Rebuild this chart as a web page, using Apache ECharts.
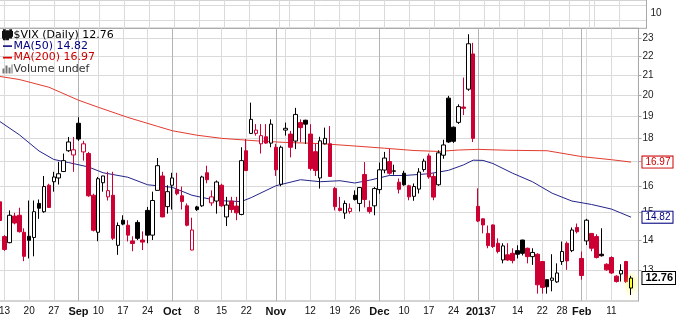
<!DOCTYPE html>
<html><head><meta charset="utf-8">
<script src="https://cdn.jsdelivr.net/npm/echarts@6/dist/echarts.min.js"></script>
<style>html,body{margin:0;padding:0;background:#fff;overflow:hidden;width:679px;height:317px;position:relative}#c{position:absolute;left:-4px;top:0;width:683px;height:317px}</style>
</head><body><div id="c"></div>
<script>
const dates = ['08-10','08-13','08-14','08-15','08-16','08-17','08-20','08-21','08-22','08-23','08-24','08-27','08-28','08-29','08-30','08-31',
'09-04','09-05','09-06','09-07','09-10','09-11','09-12','09-13','09-14','09-17','09-18','09-19','09-20','09-21','09-24','09-25','09-26','09-27','09-28',
'10-01','10-02','10-03','10-04','10-05','10-08','10-09','10-10','10-11','10-12','10-15','10-16','10-17','10-18','10-19','10-22','10-23','10-24','10-25','10-26','10-31',
'11-01','11-02','11-05','11-06','11-07','11-08','11-09','11-12','11-13','11-14','11-15','11-16','11-19','11-20','11-21','11-23','11-26','11-27','11-28','11-29','11-30',
'12-03','12-04','12-05','12-06','12-07','12-10','12-11','12-12','12-13','12-14','12-17','12-18','12-19','12-20','12-21','12-24','12-26','12-27','12-28','12-31',
'01-02','01-03','01-04','01-07','01-08','01-09','01-10','01-11','01-14','01-15','01-16','01-17','01-18','01-22','01-23','01-24','01-25','01-28','01-29','01-30','01-31',
'02-01','02-04','02-05','02-06','02-07','02-08','02-11','02-12','02-13','02-14','02-15','02-19'];

const opens = [15.39,14.13,13.92,14.86,14.89,14.28,14.14,14.10,15.33,15.02,16.03,16.17,16.32,16.58,17.45,17.27,18.67,17.40,17.33,15.64,
14.28,16.13,15.58,15.64,13.83,14.71,14.53,13.98,14.63,14.01,15.07,14.18,15.83,16.40,15.21,16.03,15.86,15.62,15.24,13.67,
15.20,15.24,16.53,15.35,15.42,16.03,14.83,15.42,15.23,14.92,17.45,18.21,18.21,17.75,18.06,17.78,17.60,16.07,18.36,18.18,
17.87,18.70,18.81,18.18,17.41,16.32,17.75,17.75,15.90,15.15,14.97,15.03,15.64,15.33,16.46,15.18,15.24,15.86,16.64,16.99,
16.59,16.15,16.51,16.01,15.60,15.88,16.66,17.23,16.38,16.05,17.26,19.86,18.49,18.71,19.43,20.30,22.14,15.22,14.76,14.24,
14.54,13.90,13.34,13.51,13.56,13.65,14.01,13.73,13.45,13.53,13.29,12.71,12.69,12.64,13.29,13.90,13.65,14.45,13.39,13.98,
14.24,14.13,13.53,13.20,13.42,12.82,12.89,13.29,12.45];
const highs = [15.47,14.18,15.07,14.98,15.17,14.42,15.44,15.44,15.48,16.40,16.09,16.57,16.98,17.33,18.05,18.05,18.95,17.88,17.40,15.70,
16.36,16.41,16.57,16.57,14.63,14.89,14.71,14.14,14.71,14.31,15.20,15.78,17.14,16.57,16.03,16.53,16.53,15.98,15.33,14.80,
15.24,16.41,16.82,15.83,16.22,16.09,15.58,15.58,15.58,17.60,17.96,19.64,18.63,18.63,18.63,18.85,17.75,17.67,18.70,18.32,
19.39,18.85,18.83,18.63,17.75,18.06,18.47,18.54,15.96,15.58,15.44,15.33,15.83,15.96,16.97,15.44,15.96,16.95,17.40,17.53,
16.86,16.30,16.61,16.05,16.10,16.72,17.11,17.33,16.51,17.47,17.93,19.97,18.52,19.56,20.89,23.24,22.75,15.91,14.78,14.52,
14.56,14.07,13.90,13.90,13.73,13.83,14.02,13.75,13.73,13.56,13.30,12.72,13.53,13.23,13.96,13.96,14.45,14.59,13.62,14.76,
14.25,14.21,14.42,13.23,13.46,12.85,13.20,13.31,12.83];
const lows = [14.63,13.64,13.90,14.56,14.27,13.30,13.39,13.46,14.76,14.98,15.16,15.78,16.06,16.57,17.40,16.57,17.88,17.03,15.58,14.31,
13.97,15.78,15.44,14.01,13.51,14.53,13.96,13.63,14.01,13.67,13.90,14.01,15.83,14.82,14.95,15.10,15.64,15.10,14.49,13.66,
15.05,15.20,16.11,15.24,14.95,15.20,14.50,14.98,14.71,14.89,16.60,18.18,18.11,17.33,17.75,17.60,16.40,15.99,18.11,17.17,
17.52,17.82,17.75,16.62,16.40,15.90,17.72,16.36,15.07,15.03,14.76,14.95,15.44,15.03,15.18,14.95,14.89,15.70,16.51,16.45,
16.45,15.71,16.01,15.45,15.43,15.71,16.57,16.29,15.45,16.01,17.11,17.79,17.79,18.64,19.05,20.22,17.83,14.64,14.24,13.73,
13.74,13.56,13.23,13.31,13.23,13.39,13.49,13.23,13.18,12.28,12.28,12.28,12.35,12.61,13.18,13.02,13.60,14.24,12.71,13.84,
13.63,13.39,13.45,12.99,12.89,12.62,12.65,12.61,12.24];
const closes = [14.70,13.69,14.89,14.61,14.30,13.46,14.00,15.02,15.15,15.98,15.18,16.36,16.49,17.03,17.83,17.49,17.96,17.75,15.62,14.35,
16.29,16.40,15.82,14.07,14.52,14.57,14.18,13.89,14.07,13.94,14.18,15.44,16.82,14.83,15.78,16.32,15.70,15.40,14.53,14.36,
15.10,16.36,16.25,15.58,16.16,15.24,15.27,15.10,14.98,17.03,16.62,18.85,18.36,18.11,17.78,18.63,16.65,17.60,18.44,17.60,
19.08,18.47,18.63,16.70,16.62,17.88,17.99,16.38,15.21,15.07,15.33,15.15,15.48,15.94,15.48,15.03,15.90,16.65,17.14,16.51,
16.61,15.87,16.05,15.58,15.98,16.56,17.01,16.36,15.57,17.36,17.70,17.83,17.86,19.45,19.37,22.70,17.99,14.68,14.54,13.82,
13.79,13.62,13.81,13.34,13.32,13.53,13.56,13.45,13.59,12.55,12.47,12.49,12.76,12.92,13.62,13.31,14.36,14.30,12.84,14.71,
13.73,13.42,13.48,13.02,12.92,12.65,13.00,12.65,12.76];

const ma50Dates = ['08-10','08-16','08-22','08-27','08-30','09-06','09-11','09-18','09-24','10-01','10-05','10-11','10-16','10-19','10-23','11-01','11-08','11-14','11-20','11-26','11-29','12-05','12-10','12-17','12-21','12-27','12-31','01-03','01-07','01-11','01-17','01-24','01-30','02-05','02-11','02-15'];
const ma50Vals = [18.76,18.15,17.44,17.08,16.95,16.77,16.53,16.35,16.05,15.95,15.64,15.48,15.42,15.40,15.55,16.01,16.25,16.17,16.21,16.12,16.23,16.42,16.42,16.49,16.63,16.85,17.05,17.04,16.91,16.51,16.17,15.72,15.42,15.29,15.12,14.82];
const ma200Dates = ['08-10','08-16','08-24','09-04','09-10','09-18','09-26','10-01','10-08','10-15','10-24','11-05','11-14','11-23','12-04','12-12','12-19','12-26','01-02','01-10','01-23','02-01','02-11','02-15'];
const ma200Vals = [20.95,20.79,20.40,19.76,19.42,18.94,18.53,18.33,18.13,17.99,17.88,17.81,17.76,17.67,17.56,17.46,17.42,17.48,17.51,17.47,17.45,17.20,17.07,16.97];

const tickDates = ['08-13','08-20','08-27','09-04','09-10','09-17','09-24','10-01','10-08','10-15','10-22','11-01','11-05','11-12','11-19','11-26','12-03','12-10','12-17','12-24','01-02','01-07','01-14','01-22','01-28','02-01','02-04','02-11'];
const tickLabels = ['13','20','27','Sep','10','17','24','Oct','8','15','22','Nov','','12','19','26','Dec','10','17','24','2013','7','14','22','28','Feb','','11'];
const monthDates = ['09-04','10-01','11-01','12-03','01-02','02-01'];
const yTicks = [13,14,15,16,17,18,19,20,21,22,23];

const RED = '#cc0033', NAVY = '#24248a', MA200C = '#e33b2e';
const tickMap = {}; tickDates.forEach((d,i)=>tickMap[d]=tickLabels[i]);
const monthSet = new Set(monthDates);
const last = closes.length - 1;
const candleData = opens.map((o,i)=>{
  const c = closes[i];
  const dn = i === 0 || c < closes[i-1];
  const col = dn ? RED : '#000';
  const up = c >= o;
  const fill = up ? '#fff' : col;
  const st = {color: fill, color0: fill, borderColor: col, borderColor0: col, borderWidth: 1};
  if (i === last) { st.color = st.color0 = '#ffff33'; st.shadowColor = 'rgba(255,255,0,0.9)'; st.shadowBlur = 6; }
  return {value: [o, c, lows[i], highs[i]], itemStyle: st};
});
const YMIN = 12.06, YMAX = 23.58;
const FONT = 'Liberation Sans, Arial, sans-serif';
const gridL = 0.5, gridR = 32.5;

function boxAxis(val, color, bold){
  return {type:'log', gridIndex:0, position:'right', min:YMIN, max:YMAX,
    axisLine:{show:false}, axisTick:{show:false}, splitLine:{show:false}, z: 10,
    axisLabel:{customValues:[val], formatter: ()=>val.toFixed(2), color: color, fontFamily: FONT,
      fontSize: bold ? 11 : 10, fontWeight: bold ? 'bold' : 'normal', backgroundColor:'#fff',
      borderColor: color, borderWidth: 1, padding:[1,2,0,3], margin: 4}};
}

const chart = echarts.init(document.getElementById('c'), null, {renderer:'canvas'});
chart.setOption({
  animation: false,
  backgroundColor: '#fff',
  grid: [
    {left: gridL, right: gridR, top: 28.3, bottom: 14, show: true, borderColor: '#a8a8a8', borderWidth: 1},
    {left: gridL, right: gridR, top: 0, height: 28.3, show: true, borderColor: '#a8a8a8', borderWidth: 1}
  ],
  legend: {
    orient: 'vertical', left: 6, top: 29.3, padding: 0, itemGap: 0.4, itemWidth: 10, itemHeight: 9,
    selectedMode: false,
    textStyle: {fontFamily: 'DejaVu Sans, Verdana, sans-serif', fontSize: 11, lineHeight: 11, padding: [0,0,0,-4]},
    formatter: name => {
      if (name === '$VIX (Daily)') return name + ' ' + closes[last].toFixed(2);
      if (name === 'MA(50)') return name + ' ' + ma50Vals[ma50Vals.length-1].toFixed(2);
      if (name === 'MA(200)') return name + ' ' + ma200Vals[ma200Vals.length-1].toFixed(2);
      return 'Volume undef';
    },
    data: [
      {name: '$VIX (Daily)', icon: 'path://M1,0h1v10h-1zM0,2h3v6h-3zM4.5,1h1v9h-1zM3.5,3h3v5h-3zM8,0h1v8h-1zM7,2h3v4h-3z', itemStyle: {color: '#111', borderColor: '#111'}, textStyle: {color: '#000'}},
      {name: 'MA(50)', icon: 'path://M0,0L0.01,0ZM0,4h10v2h-10zM0,10L0.01,10Z', itemStyle: {color: NAVY}, textStyle: {color: '#000080'}},
      {name: 'MA(200)', icon: 'path://M0,0L0.01,0ZM0,4h10v2h-10zM0,10L0.01,10Z', itemStyle: {color: '#e00000'}, textStyle: {color: '#cc0000'}},
      {name: 'Volume', icon: 'path://M0,5h2v5h-2zM3,2h2v8h-2zM6,4h2v6h-2zM9,1h1v9h-1z', itemStyle: {color: '#777'}, textStyle: {color: '#333'}}
    ]
  },
  xAxis: [
    {type: 'category', gridIndex: 0, data: dates, boundaryGap: true,
     axisLine: {show: false}, axisTick: {show: false},
     axisLabel: {interval: (i, v) => v in tickMap, fontSize: 10, color: '#111', fontFamily: FONT, margin: 5,
       formatter: v => { const l = tickMap[v] || ''; return /^[A-Z]|2013/.test(l) ? '{b|' + l + '}' : l; },
       rich: {b: {fontWeight: 'bold', fontSize: 11, fontFamily: FONT, color: '#111'}}},
     splitLine: {show: true, alignWithLabel: true, interval: (i, v) => (v in tickMap) && !monthSet.has(v), lineStyle: {color: '#dadada'}}},
    {type: 'category', gridIndex: 0, data: dates, boundaryGap: true, position: 'bottom',
     axisLine: {show: false}, axisTick: {show: false}, axisLabel: {show: false},
     splitLine: {show: true, alignWithLabel: true, interval: (i, v) => monthSet.has(v), lineStyle: {color: '#b4b4b4'}}},
    {type: 'category', gridIndex: 1, data: dates, boundaryGap: true,
     axisLine: {show: false}, axisTick: {show: false}, axisLabel: {show: false},
     splitLine: {show: true, alignWithLabel: true, interval: (i, v) => (v in tickMap), lineStyle: {color: '#dadada'}}}
  ],
  yAxis: [
    {type: 'log', gridIndex: 0, position: 'right', min: YMIN, max: YMAX,
     axisLine: {show: true, lineStyle: {color: '#a8a8a8'}},
     axisTick: {show: true, length: 3, customValues: yTicks, lineStyle: {color: '#a8a8a8'}},
     axisLabel: {customValues: yTicks, fontSize: 10, color: '#222', fontFamily: FONT, margin: 4},
     splitLine: {show: true, lineStyle: {color: '#dadada'}}},
    boxAxis(ma200Vals[ma200Vals.length-1], '#cc0000', false),
    boxAxis(ma50Vals[ma50Vals.length-1], '#000080', false),
    boxAxis(closes[last], '#000', true),
    {type: 'value', gridIndex: 1, position: 'right', min: 0, max: 18.67,
     axisLine: {show: true, lineStyle: {color: '#a8a8a8'}},
     axisTick: {show: false, customValues: [5, 15]},
     axisLabel: {customValues: [10], fontSize: 10, color: '#222', fontFamily: FONT, margin: 4},
     splitLine: {show: true, lineStyle: {color: '#dadada'}}}
  ],
  series: [
    {name: 'MA(200)', type: 'line', xAxisIndex: 0, yAxisIndex: 0, showSymbol: false, z: 2,
     lineStyle: {color: MA200C, width: 1}, itemStyle: {color: MA200C},
     data: ma200Dates.map((d, i) => [d, ma200Vals[i]])},
    {name: 'MA(50)', type: 'line', xAxisIndex: 0, yAxisIndex: 0, showSymbol: false, z: 2,
     lineStyle: {color: NAVY, width: 1}, itemStyle: {color: NAVY},
     data: ma50Dates.map((d, i) => [d, ma50Vals[i]])},
    {name: '$VIX (Daily)', type: 'candlestick', xAxisIndex: 0, yAxisIndex: 0, barWidth: 4, z: 3,
     itemStyle: {color: '#111', color0: RED, borderColor: '#111', borderColor0: RED},
     data: candleData},
    {name: 'Volume', type: 'bar', xAxisIndex: 2, yAxisIndex: 4, data: [], itemStyle: {color: '#777'}}
  ]
});
</script></body></html>
